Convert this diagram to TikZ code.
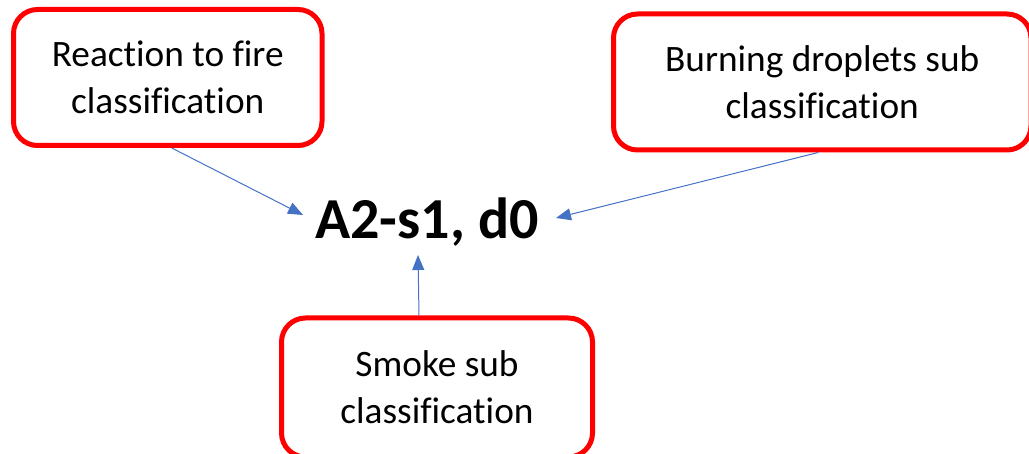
\documentclass[tikz,border=0pt]{standalone}
\usepackage{fontspec}
\setmainfont{Carlito}[Ligatures=NoCommon]
\usetikzlibrary{arrows.meta,calc}
\definecolor{boxred}{HTML}{FF0000}
\definecolor{arrblue}{HTML}{4472C4}
\tikzset{
  classbox/.style={draw=boxred, line width=5pt, rounded corners=24pt, fill=white,
    align=center, font=\fontsize{37.3}{47}\selectfont, inner sep=0pt},
  arr/.style={draw=arrblue, line width=1pt, -{Triangle[length=15pt,width=12pt]}}
}
\begin{document}
\begin{tikzpicture}[x=1pt,y=-1pt]
\useasboundingbox (0,0) rectangle (1029,454);
\node[classbox, minimum width=308.5pt, minimum height=136pt] (b1) at (167.75,77.5) {Reaction to fire\\classification};
\node[classbox, minimum width=417.5pt, minimum height=136pt] (b2) at (822.25,82) {Burning droplets sub\\classification};
\node[classbox, minimum width=311pt, minimum height=139pt] (b3) at (437,387.5) {Smoke sub\\classification};
\node[font=\fontsize{58}{70}\selectfont\bfseries, inner sep=0pt] (t) at (427,222) {A2-s1, d0};
\draw[arr] ([xshift=4pt]b1.south) -- ($(t.center)+(-124,-7)$);
\draw[arr] ([xshift=-4pt]b2.south) -- ($(t.center)+(129,-4)$);
\draw[arr] ([xshift=-18pt]b3.north) -- ($(t.center)+(-9,33)$);
\end{tikzpicture}
\end{document}
